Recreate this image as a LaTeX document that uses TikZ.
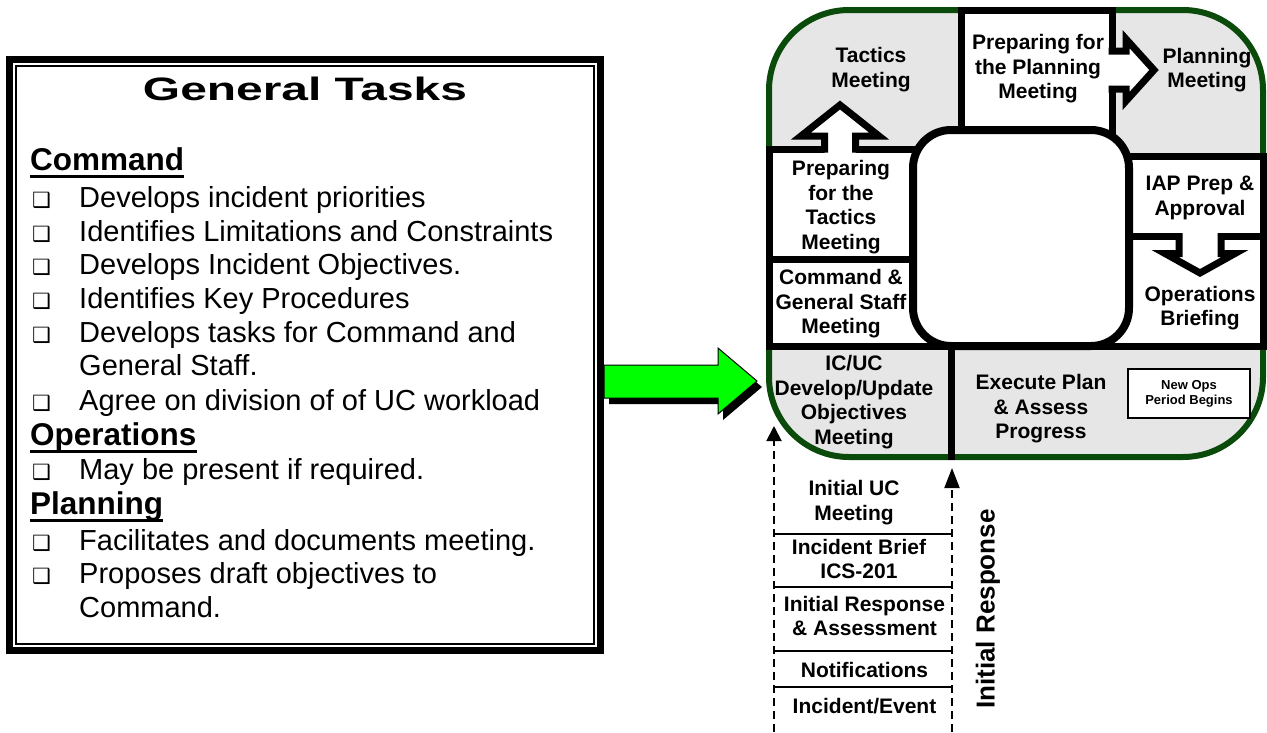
\documentclass[tikz,border=0pt]{standalone}
\usepackage{fontspec}
\setmainfont{Liberation Sans}
\newfontfamily\dejavu{DejaVu Sans}
\usepackage{graphicx}
\usetikzlibrary{arrows.meta}
\definecolor{dkgreen}{HTML}{0A4A0A}
\definecolor{lgray}{HTML}{E6E6E6}
\definecolor{arrowgreen}{HTML}{00FF00}
\begin{document}
\begin{tikzpicture}[x=1pt,y=-1pt,
  box/.style={draw=black, line width=7pt, fill=white, rectangle, inner sep=0pt},
  lbl/.style={font=\fontsize{21}{24.5}\selectfont\bfseries, align=center, inner sep=0pt},
  bodytext/.style={font=\fontsize{29}{34}\selectfont, anchor=base west, inner sep=0pt},
  headtext/.style={font=\fontsize{31.5}{36}\selectfont\bfseries, anchor=base west, inner sep=0pt},
  bul/.style={font=\dejavu\fontsize{21}{21}\selectfont, anchor=base west, inner sep=0pt},
  uline/.style={line width=3pt},
  blockarrow/.style={draw=black, line width=7pt, line join=miter},
  sepline/.style={line width=2.5pt},
  dashedarrow/.style={line width=2pt, dash pattern=on 8pt off 5pt}
]
\useasboundingbox (0,0) rectangle (1267,732);

% ---------------- left text box ----------------
\draw[line width=7pt] (9.5,59.5) rectangle (600.5,650.5);
\draw[line width=2pt] (16,66) rectangle (594,644);
\node[inner sep=0pt, anchor=base] (title) at (305,100) {\resizebox{324pt}{23.5pt}{\bfseries General Tasks}};

\node[headtext] (hcmd) at (30,170) {Command};
\draw[uline] ([yshift=-6pt]hcmd.base west) -- ([yshift=-6pt]hcmd.base east);
\node[bul] (b1) at (32,207) {❑};   \node[bodytext] (l1) at (79,207) {Develops incident priorities};
\node[bul] (b2) at (32,241) {❑};   \node[bodytext] (l2) at (79,241) {Identifies Limitations and Constraints};
\node[bul] (b3) at (32,274.5) {❑}; \node[bodytext] (l3) at (79,274.5) {Develops Incident Objectives.};
\node[bul] (b4) at (32,308) {❑};   \node[bodytext] (l4) at (79,308) {Identifies Key Procedures};
\node[bul] (b5) at (32,342) {❑};   \node[bodytext] (l5) at (79,342) {Develops tasks for Command and};
                                   \node[bodytext] (l5b) at (79,375.5) {General Staff.};
\node[bul] (b6) at (32,410) {❑};   \node[bodytext] (l6) at (79,410) {Agree on division of of UC workload};

\node[headtext] (hops) at (30,445) {Operations};
\draw[uline] ([yshift=-6pt]hops.base west) -- ([yshift=-6pt]hops.base east);
\node[bul] (b7) at (32,479) {❑};   \node[bodytext] (l7) at (79,479) {May be present if required.};

\node[headtext] (hplan) at (30,514.5) {Planning};
\draw[uline] ([yshift=-6pt]hplan.base west) -- ([yshift=-6pt]hplan.base east);
\node[bul] (b8) at (32,550) {❑};   \node[bodytext] (l8) at (79,550) {Facilitates and documents meeting.};
\node[bul] (b9) at (32,583.5) {❑}; \node[bodytext] (l9) at (79,583.5) {Proposes draft objectives to};
                                   \node[bodytext] (l9b) at (79,617) {Command.};

% ---------------- green arrow ----------------
\fill[black] (609,371) -- (723,371) -- (723,354) -- (762,387) -- (723,420) -- (723,404) -- (609,404) -- cycle;
\draw[line width=1pt, fill=arrowgreen] (604,365) -- (718,365) -- (718,348) -- (757,381) -- (718,414) -- (718,398) -- (604,398) -- cycle;

% ---------------- cycle diagram ----------------
\draw[dkgreen, line width=6pt, fill=lgray, rounded corners=80pt] (769,10) rectangle (1263,457);

\node[box, minimum width=171pt, minimum height=110pt] (prepTacBox) at (854.5,204) {};
\node[box, minimum width=171pt, minimum height=87pt] (cgsBox) at (854.5,302.5) {};
\node[box, minimum width=151pt, minimum height=140pt] (prepPlanBox) at (1036.5,80) {};
\node[box, minimum width=163pt, minimum height=80pt] (iapBox) at (1181.5,196.5) {};
\node[box, minimum width=163pt, minimum height=109.5pt] (opsBox) at (1181.5,291.25) {};

\draw[line width=7pt] (766,346) -- (1266,346);
\draw[line width=7pt] (951.5,346) -- (951.5,460);

\node[draw=black, line width=8pt, fill=white, rounded corners=38pt, minimum width=216pt, minimum height=216pt, inner sep=0pt] (centre) at (1021,238) {};

% block arrows
\fill[white] (824.5,156) -- (824.5,136) -- (801,136) -- (840,105) -- (879,136) -- (855.5,136) -- (855.5,156) -- cycle;
\draw[blockarrow] (824.5,152.5) -- (824.5,136) -- (801,136) -- (840,105) -- (879,136) -- (855.5,136) -- (855.5,152.5);

\fill[white] (1104,51) -- (1126,51) -- (1126,39) -- (1154,70) -- (1126,101) -- (1126,89) -- (1104,89) -- cycle;
\draw[blockarrow] (1108.5,51) -- (1126,51) -- (1126,39) -- (1154,70) -- (1126,101) -- (1126,89) -- (1108.5,89);

\fill[white] (1179,228) -- (1179,253.5) -- (1165,253.5) -- (1200,273) -- (1235,253.5) -- (1221,253.5) -- (1221,228) -- cycle;
\draw[blockarrow] (1179,233) -- (1179,253.5) -- (1165,253.5) -- (1200,273) -- (1235,253.5) -- (1221,253.5) -- (1221,233);

\node[draw=black, line width=2pt, fill=white, minimum width=122pt, minimum height=49pt, inner sep=0pt, align=center, font=\fontsize{13}{15}\selectfont\bfseries] (newops) at (1189,393.5) {New Ops\\Period Begins};

% labels
\node[lbl] (tTac) at (871,69.5) {Tactics\\Meeting};
\node[lbl] (tPrepPlan) at (1038,69) {Preparing for\\the Planning\\Meeting};
\node[lbl] (tPlan) at (1207,70) {Planning\\Meeting};
\node[lbl] (tPrepTac) at (841,207) {Preparing\\for the\\Tactics\\Meeting};
\node[lbl] (tIAP) at (1200,198) {IAP Prep \&\\Approval};
\node[lbl] (tCGS) at (841,304) {Command \&\\General Staff\\Meeting};
\node[lbl] (tOps) at (1200,308) {Operations\\Briefing};
\node[lbl] (tIC) at (854,402) {IC/UC\\Develop/Update\\Objectives\\Meeting};
\node[lbl] (tExec) at (1041,409) {Execute Plan\\\& Assess\\Progress};

% ---------------- initial response stack ----------------
\coordinate (dlBot) at (774,732);
\coordinate (dlTop) at (774,426);
\coordinate (drBot) at (952,732);
\coordinate (drTop) at (952,468);
\draw[dashedarrow, -{Triangle[length=15pt, width=15pt]}] (dlBot) -- (dlTop);
\draw[dashedarrow, -{Triangle[length=20pt, width=15pt]}] (drBot) -- (drTop);

\draw[sepline] (774,534) -- (952,534);
\draw[sepline] (774,587) -- (952,587);
\draw[sepline] (774,651) -- (952,651);
\draw[sepline] (774,687) -- (952,687);

\node[lbl] (tUC) at (854,502.5) {Initial UC\\Meeting};
\node[lbl] (tBrief) at (859,559) {Incident Brief\\ICS-201};
\node[lbl] (tIRA) at (864.5,616) {Initial Response\\\& Assessment};
\node[lbl] (tNot) at (864.5,670) {Notifications};
\node[lbl] (tInc) at (864.5,706) {Incident/Event};

\node[rotate=90, inner sep=0pt, font=\fontsize{26}{26}\selectfont\bfseries] (tIR) at (988,609) {Initial Response};
\end{tikzpicture}
\end{document}
